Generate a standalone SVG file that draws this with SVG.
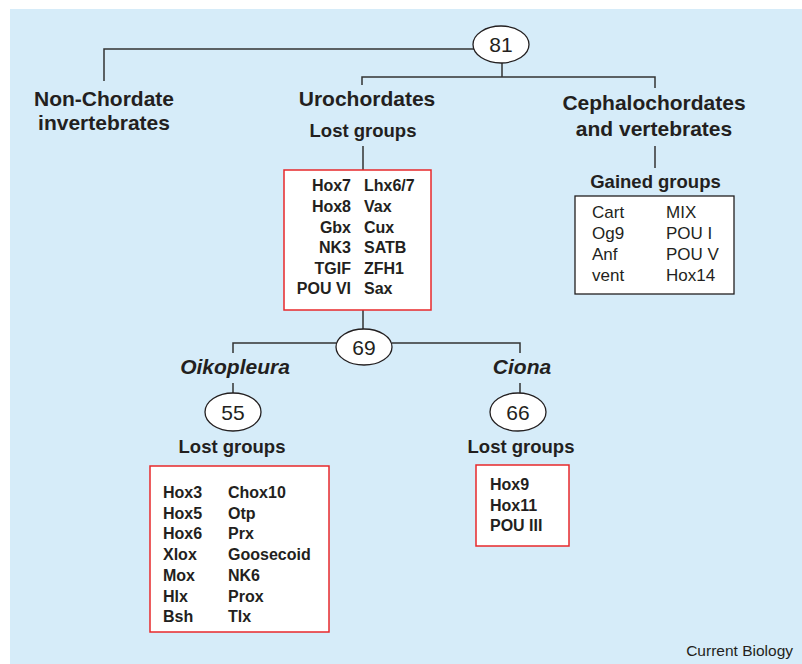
<svg xmlns="http://www.w3.org/2000/svg" width="802" height="664" viewBox="0 0 802 664">
<style>
text{font-family:"Liberation Sans",Arial,sans-serif;fill:#231f20}
.h{font-size:21px;font-weight:bold;text-anchor:middle}
.hi{font-size:21px;font-weight:bold;font-style:italic;text-anchor:middle}
.sub{font-size:18.5px;font-weight:bold;text-anchor:middle}
.b{font-size:16px;font-weight:bold}
.r{font-size:17px}
.num{font-size:21px;text-anchor:middle}
.ln{stroke:#333;stroke-width:1.5;fill:none}
.ell{fill:#fff;stroke:#231f20;stroke-width:1.3}
.red{fill:#fff;stroke:#e8282b;stroke-width:1.5}
.blk{fill:#fff;stroke:#231f20;stroke-width:1.3}
</style>
<rect x="10" y="9" width="792" height="655" fill="#d6ecf9"/>
<g id="connectors">
<path class="ln" d="M474 49 H104 V81"/>
<path class="ln" d="M502 63 V77 M362 85 V77 H655 V88"/>
<path class="ln" d="M655 146 V168"/>
<path class="ln" d="M363 146 V170 M363 310 V330"/>
<path class="ln" d="M336 343 H233 V353 M392 343 H520 V353"/>
<path class="ln" d="M233 383 V393 M520 383 V393"/>
</g>
<g id="n81"><ellipse class="ell" cx="501" cy="44.5" rx="28" ry="18.5"/><text class="num" x="501" y="52">81</text></g>
<g id="nonchordate"><text class="h" x="104" y="106">Non-Chordate</text><text class="h" x="104" y="130">invertebrates</text></g>
<g id="urochordates"><text class="h" x="367" y="106">Urochordates</text><text class="sub" x="363" y="137">Lost groups</text></g>
<g id="cephalochordates"><text class="h" x="654" y="110">Cephalochordates</text><text class="h" x="654" y="136">and vertebrates</text></g>
<g id="gained">
<text class="sub" x="655.5" y="188">Gained groups</text>
<rect class="blk" x="575" y="196" width="159" height="98"/>
<text class="r" x="592" y="218">Cart</text><text class="r" x="666" y="218">MIX</text>
<text class="r" x="592" y="239">Og9</text><text class="r" x="666" y="239">POU I</text>
<text class="r" x="592" y="260">Anf</text><text class="r" x="666" y="260">POU V</text>
<text class="r" x="592" y="281">vent</text><text class="r" x="666" y="281">Hox14</text>
</g>
<g id="urolost">
<rect class="red" x="284" y="170" width="147" height="140"/>
<g text-anchor="end">
<text class="b" x="351" y="191">Hox7</text><text class="b" x="351" y="212">Hox8</text><text class="b" x="351" y="232.5">Gbx</text><text class="b" x="351" y="253">NK3</text><text class="b" x="351" y="273.5">TGIF</text><text class="b" x="351" y="294">POU VI</text>
</g>
<text class="b" x="364" y="191">Lhx6/7</text><text class="b" x="364" y="212">Vax</text><text class="b" x="364" y="232.5">Cux</text><text class="b" x="364" y="253">SATB</text><text class="b" x="364" y="273.5">ZFH1</text><text class="b" x="364" y="294">Sax</text>
</g>
<g id="n69"><ellipse class="ell" cx="364" cy="347" rx="28" ry="18"/><text class="num" x="364" y="354.5">69</text></g>
<g id="oikopleura"><text class="hi" x="235" y="374">Oikopleura</text></g>
<g id="ciona"><text class="hi" x="522" y="374">Ciona</text></g>
<g id="n55"><ellipse class="ell" cx="233" cy="412" rx="28" ry="19"/><text class="num" x="233" y="419.5">55</text></g>
<g id="n66"><ellipse class="ell" cx="518" cy="412" rx="28" ry="19"/><text class="num" x="518" y="419.5">66</text></g>
<g id="oikolost">
<text class="sub" x="232" y="453">Lost groups</text>
<rect class="red" x="150" y="466" width="179" height="166"/>
<text class="b" x="163" y="498">Hox3</text><text class="b" x="228" y="498">Chox10</text>
<text class="b" x="163" y="518.5">Hox5</text><text class="b" x="228" y="518.5">Otp</text>
<text class="b" x="163" y="539">Hox6</text><text class="b" x="228" y="539">Prx</text>
<text class="b" x="163" y="560">Xlox</text><text class="b" x="228" y="560">Goosecoid</text>
<text class="b" x="163" y="581">Mox</text><text class="b" x="228" y="581">NK6</text>
<text class="b" x="163" y="601.5">Hlx</text><text class="b" x="228" y="601.5">Prox</text>
<text class="b" x="163" y="622">Bsh</text><text class="b" x="228" y="622">Tlx</text>
</g>
<g id="cionalost">
<text class="sub" x="521" y="453">Lost groups</text>
<rect class="red" x="476" y="465" width="93" height="81"/>
<text class="b" x="490" y="490">Hox9</text>
<text class="b" x="490" y="510.5">Hox11</text>
<text class="b" x="490" y="531">POU III</text>
</g>
<text x="793" y="656" font-size="15.5" text-anchor="end">Current Biology</text>
</svg>
